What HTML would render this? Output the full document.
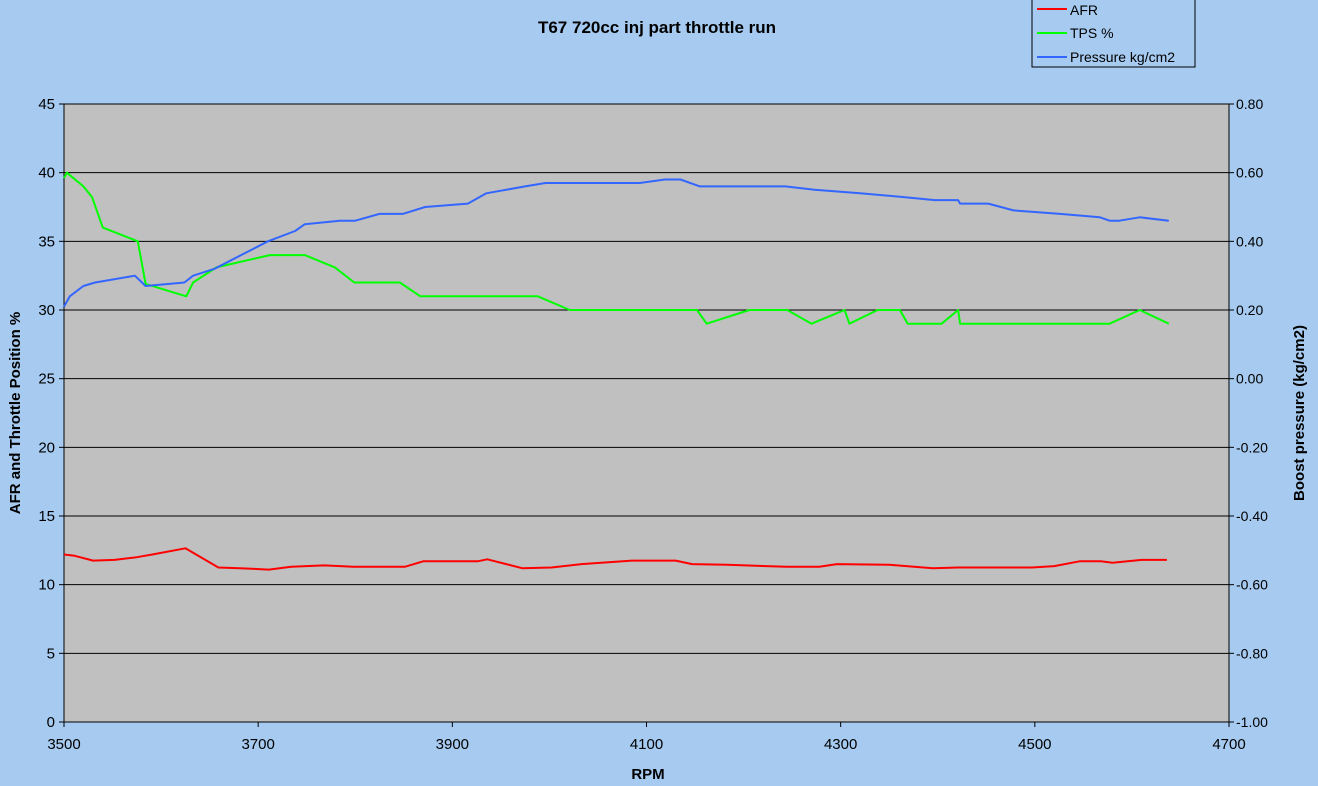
<!DOCTYPE html>
<html><head><meta charset="utf-8"><style>
html,body{margin:0;padding:0;background:#A6CAF0;}
svg{display:block;font-family:"Liberation Sans",Arial,sans-serif;}
</style></head><body>
<svg id="chart" width="1318" height="786" xmlns="http://www.w3.org/2000/svg">
<rect x="0" y="0" width="1318" height="786" fill="#A6CAF0"/>
<text x="657" y="33" text-anchor="middle" font-size="17" font-weight="bold">T67 720cc inj part throttle run</text>
<rect x="64" y="104" width="1165" height="618" fill="#C0C0C0" stroke="#000" stroke-width="1"/>
<g id="grid"></g>
<g id="axes"></g>
<g id="series"></g>
<text x="648" y="779" text-anchor="middle" font-size="15" font-weight="bold">RPM</text>
<text transform="translate(20,413) rotate(-90)" text-anchor="middle" font-size="15" font-weight="bold">AFR and Throttle Position %</text>
<text transform="translate(1304,413) rotate(-90)" text-anchor="middle" font-size="15" font-weight="bold">Boost pressure (kg/cm2)</text>
<g>
<rect x="1032" y="-1" width="163" height="68" fill="#A6CAF0" stroke="#000"/>
<line x1="1037" y1="9" x2="1067" y2="9" stroke="#FF0000" stroke-width="2"/>
<text x="1070" y="15" font-size="14">AFR</text>
<line x1="1037" y1="33" x2="1067" y2="33" stroke="#00FF00" stroke-width="2"/>
<text x="1070" y="38" font-size="14">TPS %</text>
<line x1="1037" y1="57" x2="1067" y2="57" stroke="#3366FF" stroke-width="2"/>
<text x="1070" y="62" font-size="14">Pressure kg/cm2</text>
</g>
</svg>
<script>
const xTicks = [3500,3700,3900,4100,4300,4500,4700];
const leftTicks = [0,5,10,15,20,25,30,35,40,45];
const rightTicks = [-1.0,-0.8,-0.6,-0.4,-0.2,0.0,0.2,0.4,0.6,0.8];
const afrRpm = [3500,3511,3530,3552,3575,3591,3625,3659,3681,3711,3734,3768,3798,3851,3870,3926,3936,3972,4002,4033,4085,4130,4147,4183,4244,4278,4296,4350,4395,4421,4497,4520,4546,4568,4580,4610,4636];
const afrVal = [12.2,12.1,11.75,11.8,12.0,12.2,12.65,11.25,11.2,11.1,11.3,11.4,11.3,11.3,11.7,11.7,11.85,11.2,11.25,11.5,11.75,11.75,11.5,11.45,11.3,11.3,11.5,11.45,11.2,11.25,11.25,11.35,11.7,11.7,11.6,11.8,11.8];
const tpsRpm = [3500,3503,3520,3529,3540,3576,3584,3626,3633,3657,3712,3748,3779,3799,3846,3867,3988,4021,4152,4162,4206,4245,4270,4304,4309,4338,4361,4369,4404,4421,4423,4577,4608,4638];
const tpsVal = [39.6,40,39,38.2,36,35,31.9,31,32,33.1,34,34,33.1,32,32,31,31,30,30,29,30,30,29,30,29,30,30,29,29,30,29,29,30,29];
const presRpm = [3500,3506,3520,3532,3573,3584,3624,3633,3655,3710,3738,3748,3784,3800,3825,3849,3872,3916,3935,3975,3996,4032,4093,4119,4135,4155,4243,4273,4320,4361,4397,4421,4423,4452,4478,4526,4567,4577,4587,4608,4638];
const presVal = [0.21,0.24,0.27,0.28,0.30,0.27,0.28,0.30,0.32,0.40,0.43,0.45,0.46,0.46,0.48,0.48,0.50,0.51,0.54,0.56,0.57,0.57,0.57,0.58,0.58,0.56,0.56,0.55,0.54,0.53,0.52,0.52,0.51,0.51,0.49,0.48,0.47,0.46,0.46,0.47,0.46];

const NS="http://www.w3.org/2000/svg";
const L=64,R=1229,T=104,B=722;
const xS=r=>L+(r-3500)/(4700-3500)*(R-L);
const yL=v=>B-(v/45)*(B-T);
const yR=v=>B-((v+1)/1.8)*(B-T);
function mk(tag,attrs,parent){const e=document.createElementNS(NS,tag);for(const k in attrs)e.setAttribute(k,attrs[k]);parent.appendChild(e);return e;}
const grid=document.getElementById('grid'),axes=document.getElementById('axes'),series=document.getElementById('series');
leftTicks.forEach(v=>{
  const y=yL(v);
  if(v>0&&v<45){const g=mk('line',{x1:L,x2:R,y1:y,y2:y,stroke:'#000','stroke-width':1},grid);
  
  }
  const tk=mk('line',{x1:L-5,x2:L,y1:y,y2:y,stroke:'#000'},axes);
  
  
  const t=mk('text',{x:L-9,y:y+5,'text-anchor':'end','font-size':15},axes);t.textContent=v;
  
  
});
rightTicks.forEach(v=>{
  const y=yR(v);
  const tk=mk('line',{x1:R,x2:R+5,y1:y,y2:y,stroke:'#000'},axes);
  
  
  const t=mk('text',{x:R+7,y:y+5,'font-size':14},axes);t.textContent=v.toFixed(2);
  
  
});
xTicks.forEach(v=>{
  const x=xS(v);
  const tk=mk('line',{x1:x,x2:x,y1:B,y2:B+5,stroke:'#000'},axes);
  
  
  const t=mk('text',{x:x,y:B+27,'text-anchor':'middle','font-size':15},axes);t.textContent=v;
  
  
});
function line(xs,ys,sc,color,name){
  const p=mk('polyline',{points:xs.map((r,i)=>xS(r).toFixed(1)+','+sc(ys[i]).toFixed(1)).join(' '),fill:'none',stroke:color,'stroke-width':2,'stroke-linejoin':'round'},series);
  
  
}
line(afrRpm,afrVal,yL,'#FF0000','afr-line');
line(tpsRpm,tpsVal,yL,'#00FF00','tps-line');
line(presRpm,presVal,yR,'#3366FF','pressure-line');
</script>
</body></html>
